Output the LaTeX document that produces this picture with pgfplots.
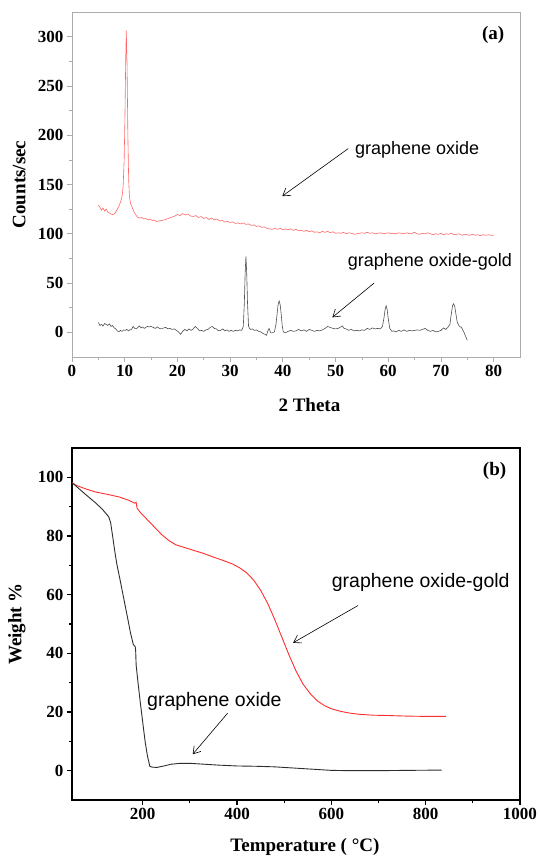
\documentclass[border=0pt]{standalone}
\usepackage{fontspec}
\setmainfont{Liberation Serif}
\newfontfamily\arial{Liberation Sans}
\usepackage{pgfplots}
\pgfplotsset{compat=1.18}
\usetikzlibrary{arrows.meta}

\definecolor{xrdRed}{RGB}{255,105,105}
\definecolor{xrdGray}{RGB}{80,80,80}
\definecolor{tgaRed}{RGB}{255,45,45}
\definecolor{tgaBlack}{RGB}{45,45,45}

\pgfplotsset{
  panel/.style={
    scale only axis, anchor=south west, width=448pt,
    tick align=outside, xtick pos=bottom, ytick pos=left,
    major tick length=5pt, minor tick length=3pt,
    minor x tick num=1, minor y tick num=1,
    /pgf/number format/assume math mode=true,
    /pgf/number format/1000 sep={},
    ticklabel style={font=\fontsize{17}{17}\selectfont\bfseries},
    label style={font=\fontsize{19}{19}\selectfont\bfseries},
  },
}
\tikzset{
  annot/.style={font=\arial\fontsize{#1}{#1}\selectfont, anchor=center},
  callout/.style={-{Straight Barb[length=7pt,width=9pt]}, line width=0.6pt},
}

\begin{document}
\begin{tikzpicture}
\useasboundingbox (0,0) rectangle (540pt,857pt);

% ---- (a) XRD ----
\begin{axis}[panel, at={(72pt,500pt)}, height=345pt,
  xmin=0, xmax=85, ymin=-25, ymax=325,
  xtick={0,10,...,80}, ytick={0,50,...,300},
  axis line style={draw=gray!65, line width=0.7pt},
  every tick/.style={draw=gray!65, line width=0.7pt},
  xlabel={2 Theta}, ylabel={Counts/sec},
  xlabel style={at={(axis description cs:0.53,-0.139)}, anchor=center},
  ylabel style={at={(axis description cs:-0.118,0.5)}, anchor=center},
]
\addplot[xrdRed, line width=0.6pt] coordinates {
(5.0,129) (5.3,127) (5.6,124) (5.9,126) (6.2,123) (6.5,125) (6.8,122) (7.1,121)
(7.4,120) (7.7,119.5) (8.0,120) (8.3,122) (8.6,125) (8.9,128) (9.2,132) (9.5,138)
(9.7,148) (9.9,175) (10.05,220) (10.2,280) (10.3,306) (10.45,270) (10.6,200) (10.75,155)
(10.9,138) (11.1,131) (11.4,127) (11.7,123) (12.0,120) (12.4,117) (12.8,116) (13.2,116.5)
(13.6,115) (14.0,115.5) (14.4,114) (14.8,115) (15.2,113.5) (15.6,114) (16.0,112.5) (16.5,113)
(17.0,113.5) (17.5,114) (18.0,115) (18.5,116) (19.0,117) (19.5,118) (20.0,119.5) (20.5,118.5)
(21.0,120.5) (21.5,119) (22.0,120) (22.5,118) (23.0,117.5) (23.5,118.5) (24.0,116.5) (24.5,117.5)
(25.0,115.5) (25.5,116.5) (26.0,114.5) (26.5,116) (27.0,114) (27.5,115) (28.0,113) (28.5,113.5)
(29.0,112) (29.5,112.5) (30.0,111.5) (30.5,112) (31.0,110.5) (31.5,111) (32.0,110) (32.5,111)
(33.0,109.5) (33.5,110) (34.0,108.5) (34.5,109) (35.0,107.5) (35.5,108) (36.0,106.5) (36.5,107)
(37.0,105.5) (37.5,105) (38.0,104.5) (38.5,105.5) (39.0,104.5) (39.5,105.5) (40.0,104) (40.5,105)
(41.0,104) (41.5,105) (42.0,103.5) (42.5,104.5) (43.0,103) (43.5,103.5) (44.0,102.5) (44.5,103.5)
(45.0,102) (45.5,103) (46.0,101.5) (46.5,102) (47.0,101) (47.5,102.5) (48.0,101.5) (48.5,102.5)
(49.0,101) (49.5,102) (50.0,100.5) (50.5,101) (51.0,100.5) (51.5,101.5) (52.0,100) (52.5,101)
(53.0,100.5) (53.5,99.5) (54.0,100) (54.5,100.5) (55.0,101) (55.5,100.5) (56.0,101.5) (56.5,100.5)
(57.0,101) (57.5,100) (58.0,100.5) (58.5,101) (59.0,100) (59.5,100.5) (60.0,101) (60.5,100)
(61.0,100.5) (61.5,100) (62.0,101) (62.5,100.5) (63.0,100) (63.5,101) (64.0,100) (64.5,100.5)
(65.0,101.5) (65.5,100) (66.0,99.5) (66.5,100.5) (67.0,100) (67.5,101) (68.0,100) (68.5,99)
(69.0,100) (69.5,99.5) (70.0,100.5) (70.5,99) (71.0,100) (71.5,99.5) (72.0,100.5) (72.5,99)
(73.0,99.5) (73.5,100) (74.0,98.5) (74.5,99.5) (75.0,99) (75.5,98.5) (76.0,99.5) (76.5,98.5)
(77.0,99) (77.5,98) (78.0,99) (78.5,98.5) (79.0,99) (79.5,98.5) (80.0,98.5)
};
\addplot[xrdGray, line width=0.6pt] coordinates {
(5.0,10) (5.3,7) (5.6,8) (5.9,6.5) (6.2,9) (6.5,8) (6.8,7) (7.1,8.5) (7.4,6) (7.7,7)
(8.0,4.5) (8.3,3.5) (8.6,1.5) (8.9,0.5) (9.2,2) (9.5,1) (9.8,2.5) (10.1,2) (10.4,3) (10.7,1.5)
(11.0,2.5) (11.3,3) (11.6,6) (11.9,4) (12.2,3.5) (12.5,5) (12.8,6.5) (13.1,4.5) (13.4,5.5) (13.7,4)
(14.0,5) (14.3,6) (14.6,5.5) (15.0,6) (15.4,5) (15.8,4) (16.2,5.5) (16.6,4) (17.0,3.5) (17.4,4.5)
(17.8,5) (18.2,3.5) (18.6,4) (19.0,3) (19.4,3.5) (19.8,2) (20.2,0.5) (20.6,-2) (21.0,1) (21.4,3)
(21.8,1.5) (22.2,3.5) (22.6,2) (23.0,3.5) (23.4,6) (23.8,4) (24.2,1.5) (24.6,2) (25.0,1) (25.4,2.5)
(25.8,3) (26.2,5) (26.6,6) (27.0,4) (27.4,3.5) (27.8,1.5) (28.2,2) (28.6,3.5) (29.0,1.5) (29.4,2.5)
(29.8,1) (30.2,2) (30.6,1) (31.0,2) (31.4,1.5) (31.8,2.5) (32.2,2) (32.5,6) (32.7,30) (32.85,60)
(33.0,77) (33.15,60) (33.3,30) (33.5,6) (33.8,3) (34.2,3.5) (34.6,2) (35.0,2.5) (35.4,1) (35.8,0.5)
(36.2,-1) (36.6,-2) (36.9,-3) (37.2,2) (37.4,4) (37.7,-0.5) (38.0,-0.5) (38.4,0.5) (38.7,8) (38.9,18)
(39.1,28) (39.3,32) (39.5,28) (39.7,18) (39.9,6) (40.1,0.5) (40.5,-0.5) (41.0,1) (41.5,2) (42.0,1)
(42.5,1.5) (43.0,3) (43.5,1.5) (44.0,2.5) (44.5,1) (45.0,3) (45.5,2) (46.0,1) (46.5,2) (47.0,1.5)
(47.5,2.5) (48.0,4) (48.5,6) (49.0,5) (49.5,4) (50.0,3.5) (50.5,4) (51.0,5.5) (51.3,6.5) (51.6,4)
(52.0,3.5) (52.5,2) (53.0,3) (53.5,1.5) (54.0,2) (54.5,1.5) (55.0,2.5) (55.5,2) (56.0,4) (56.5,3)
(57.0,4.5) (57.5,3.5) (58.0,4) (58.5,3.5) (58.9,6) (59.2,15) (59.4,23) (59.6,27) (59.8,23) (60.0,14)
(60.3,4) (60.7,1) (61.0,1.5) (61.5,0.5) (62.0,2) (62.5,1) (63.0,2.5) (63.5,1) (64.0,2) (64.5,1.5)
(65.0,2) (65.5,2.5) (66.0,2) (66.5,3) (67.0,4) (67.5,2) (68.0,1) (68.5,2) (69.0,0.5) (69.5,1)
(70.0,2) (70.5,4.5) (70.9,3) (71.3,5) (71.7,8) (72.0,20) (72.2,27) (72.4,29) (72.6,27) (72.8,20)
(73.1,10) (73.5,6) (73.9,5) (74.3,1) (74.6,-3) (75.0,-8)
};
\node[font=\fontsize{19}{19}\selectfont\bfseries] at (axis cs:79.9,302) {(a)};
\node[annot=18] at (axis cs:65.5,185.4) {graphene oxide};
\draw[callout] (axis cs:52.4,186.4) -- (axis cs:39.9,138.2);
\node[annot=18] at (axis cs:67.9,71.8) {graphene oxide-gold};
\draw[callout] (axis cs:57.3,49.9) -- (axis cs:49.4,15.2);
\end{axis}

% ---- (b) TGA ----
\begin{axis}[panel, at={(72pt,57pt)}, height=352pt,
  xmin=50, xmax=1000, ymin=-10, ymax=110,
  xtick={200,400,...,1000}, ytick={0,20,...,100},
  axis line style={line width=1.4pt},
  every tick/.style={line width=1.2pt},
  xlabel={Temperature ( °C)}, ylabel={Weight \%},
  xlabel style={at={(axis description cs:0.52,-0.134)}, anchor=center},
  ylabel style={at={(axis description cs:-0.123,0.5)}, anchor=center},
]
\addplot[tgaRed, line width=0.9pt] coordinates {
(50,98.2) (60,97.2) (80,96) (100,95) (125,94.2) (150,93.3) (170,92.2) (183,91.2)
(186,91.5) (187,90.5) (188,89.5) (195,88) (210,85.5) (225,83) (240,80.5) (255,78.5)
(270,77) (290,76) (310,75) (330,74) (350,72.8) (370,71.7) (390,70.5) (405,69.2)
(420,67.5) (435,65) (450,61.5) (465,57) (480,51.5) (495,45.5) (510,39.5) (525,34)
(540,29.5) (555,26.3) (570,23.8) (585,22.2) (600,21.1) (620,20.2) (640,19.6) (660,19.2)
(690,18.9) (720,18.8) (760,18.6) (800,18.5) (843,18.5)
};
\addplot[tgaBlack, line width=0.9pt] coordinates {
(50,98.2) (60,96.8) (80,94) (100,91.3) (115,89) (128,86.5) (132,84.5) (137,79)
(141,74.5) (145,70.5) (152,65) (160,58.5) (168,52) (174,47) (180,43) (184,42.3)
(185,41) (186,36) (190,30) (195,23) (200,16.5) (205,10) (210,5) (215,1.5)
(220,1.2) (230,1.1) (245,1.6) (260,2.2) (280,2.5) (300,2.5) (330,2.2) (360,1.9)
(400,1.6) (440,1.5) (480,1.3) (520,0.9) (560,0.5) (600,0.1) (640,0) (700,0)
(760,0.1) (834,0.2)
};
\node[font=\fontsize{19}{19}\selectfont\bfseries] at (axis cs:946,102.3) {(b)};
\node[annot=19.5] at (axis cs:789.5,64.1) {graphene oxide-gold};
\draw[callout] (axis cs:656.5,56.3) -- (axis cs:519,43.6);
\node[annot=19.5] at (axis cs:352,23.6) {graphene oxide};
\draw[callout] (axis cs:380,19.6) -- (axis cs:306,5.6);
\end{axis}
\end{tikzpicture}
\end{document}
